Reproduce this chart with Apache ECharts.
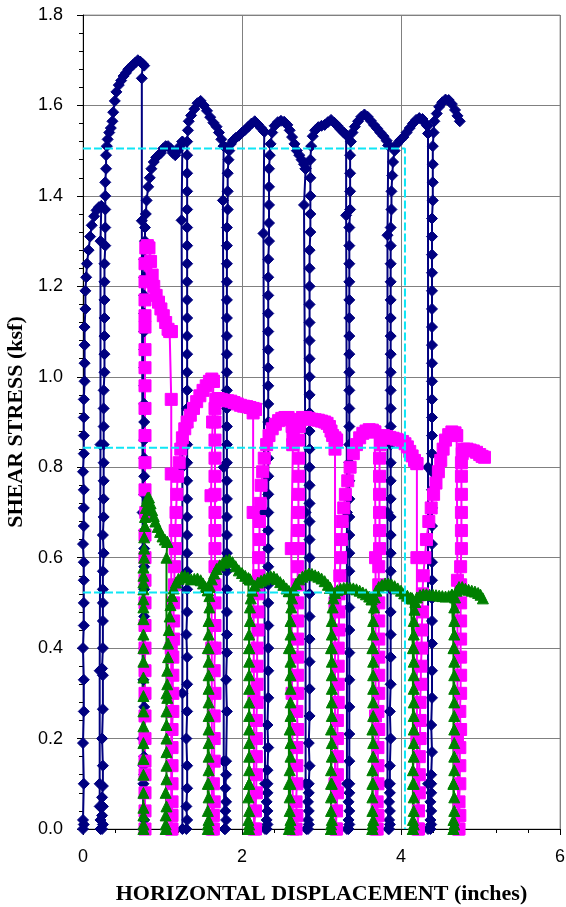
<!DOCTYPE html>
<html>
<head>
<meta charset="utf-8">
<title>Shear stress vs horizontal displacement</title>
<script src="https://cdn.jsdelivr.net/npm/echarts/dist/echarts.min.js"></script>
<style>
  html, body { margin: 0; padding: 0; background: #fff; }
  #chart { width: 566px; height: 907px; }
</style>
</head>
<body>
<div id="chart"></div>
<script>
// Axis ticks
const xTicks = [0, 2, 4, 6];
const yTicks = [0.0, 0.2, 0.4, 0.6, 0.8, 1.0, 1.2, 1.4, 1.6, 1.8];

// ---- Specimen 1 (navy diamonds): [displacement in, shear stress ksf] ----
const navyLoad1 = [[0.00,0.00],[0.01,0.01],[0.00,0.02],[0.01,0.10],[0.00,0.19],[0.01,0.26],[0.01,0.33],[0.00,0.40],[0.01,0.45],[0.01,0.50],[0.01,0.55],[0.01,0.59],[0.00,0.63],[0.01,0.67],[0.01,0.71],[0.01,0.75],[0.00,0.79],[0.01,0.83],[0.01,0.87],[0.01,0.91],[0.01,0.95],[0.02,0.99],[0.02,1.03],[0.02,1.07],[0.02,1.11],[0.03,1.15],[0.03,1.19],[0.04,1.22],[0.05,1.25],[0.07,1.28],[0.09,1.31],[0.11,1.335],[0.14,1.355],[0.17,1.368],[0.20,1.375],[0.23,1.378]];
const navyUnload1 = [[0.22,1.30],[0.22,0.85],[0.21,0.35],[0.21,0.10],[0.21,0.05],[0.22,0.02],[0.22,0.00]];
const navyLoad2 = [[0.24,0.00],[0.25,0.01],[0.24,0.03],[0.25,0.05],[0.24,0.07],[0.25,0.095],[0.25,0.14],[0.24,0.20],[0.25,0.265],[0.25,0.34],[0.24,0.355],[0.25,0.40],[0.25,0.46],[0.25,0.50],[0.25,0.53],[0.25,0.57],[0.26,0.61],[0.25,0.65],[0.26,0.69],[0.26,0.73],[0.26,0.77],[0.26,0.81],[0.26,0.85],[0.26,0.89],[0.26,0.93],[0.26,0.97],[0.27,1.01],[0.27,1.05],[0.27,1.09],[0.27,1.13],[0.27,1.17],[0.27,1.21],[0.27,1.25],[0.28,1.29],[0.28,1.33],[0.28,1.37],[0.28,1.40],[0.28,1.43],[0.29,1.46],[0.29,1.49],[0.30,1.51],[0.31,1.525],[0.33,1.54],[0.35,1.55],[0.37,1.565],[0.38,1.585],[0.40,1.61],[0.42,1.63],[0.45,1.645],[0.48,1.655],[0.51,1.665],[0.54,1.672],[0.57,1.68],[0.60,1.685],[0.63,1.69],[0.66,1.695],[0.69,1.70],[0.72,1.697],[0.75,1.692],[0.77,1.688]];
const navyUnload2 = [[0.74,1.66],[0.74,1.345],[0.75,0.70],[0.75,0.20],[0.76,0.00]];
const navyLoad3 = [[0.76,0.00],[0.77,0.02],[0.76,0.10],[0.77,0.12],[0.76,0.14],[0.77,0.16],[0.77,0.20],[0.77,0.27],[0.76,0.33],[0.77,0.40],[0.77,0.47],[0.77,0.53],[0.77,0.58],[0.77,0.62],[0.77,0.66],[0.77,0.70],[0.77,0.74],[0.77,0.78],[0.77,0.82],[0.77,0.86],[0.77,0.90],[0.77,0.94],[0.77,0.98],[0.77,1.02],[0.77,1.06],[0.77,1.10],[0.77,1.14],[0.77,1.18],[0.77,1.22],[0.77,1.26],[0.78,1.30],[0.78,1.33],[0.79,1.36],[0.80,1.39],[0.82,1.42],[0.84,1.44],[0.86,1.46],[0.89,1.475],[0.92,1.485],[0.95,1.49],[0.98,1.495],[1.01,1.505],[1.04,1.51],[1.07,1.51],[1.10,1.505],[1.13,1.495],[1.16,1.49],[1.19,1.50],[1.22,1.51],[1.25,1.52]];
const navyUnload3 = [[1.25,1.52],[1.24,1.346],[1.25,0.80],[1.25,0.30],[1.25,0.00]];
const navyLoad4 = [[1.30,0.00],[1.31,0.02],[1.30,0.05],[1.31,0.09],[1.31,0.14],[1.30,0.20],[1.31,0.26],[1.31,0.32],[1.31,0.38],[1.30,0.43],[1.31,0.48],[1.31,0.53],[1.31,0.57],[1.31,0.61],[1.31,0.65],[1.31,0.69],[1.31,0.73],[1.31,0.77],[1.31,0.81],[1.31,0.85],[1.31,0.89],[1.31,0.93],[1.31,0.97],[1.31,1.01],[1.31,1.05],[1.31,1.09],[1.31,1.13],[1.31,1.17],[1.31,1.21],[1.31,1.25],[1.31,1.29],[1.31,1.33],[1.31,1.37],[1.31,1.41],[1.31,1.45],[1.31,1.49],[1.31,1.52],[1.32,1.545],[1.33,1.565],[1.36,1.578],[1.40,1.592],[1.44,1.605],[1.48,1.61],[1.52,1.60],[1.56,1.588],[1.60,1.574],[1.64,1.562],[1.68,1.553],[1.71,1.54],[1.74,1.525],[1.77,1.51]];
const navyUnload4 = [[1.77,1.51],[1.76,1.39],[1.77,0.80],[1.77,0.15],[1.78,0.00]];
const navyLoad5 = [[1.79,0.00],[1.80,0.02],[1.79,0.04],[1.80,0.06],[1.79,0.09],[1.80,0.12],[1.80,0.15],[1.81,0.26],[1.80,0.33],[1.81,0.39],[1.81,0.43],[1.81,0.48],[1.81,0.53],[1.81,0.57],[1.81,0.61],[1.81,0.65],[1.81,0.69],[1.81,0.73],[1.81,0.77],[1.81,0.81],[1.81,0.85],[1.81,0.89],[1.81,0.93],[1.81,0.97],[1.81,1.01],[1.81,1.05],[1.81,1.09],[1.81,1.13],[1.81,1.17],[1.81,1.21],[1.81,1.25],[1.81,1.29],[1.81,1.33],[1.82,1.37],[1.82,1.41],[1.82,1.45],[1.83,1.48],[1.84,1.50],[1.86,1.515],[1.89,1.523],[1.92,1.528],[1.96,1.533],[2.00,1.54],[2.04,1.546],[2.08,1.553],[2.12,1.56],[2.16,1.565],[2.20,1.558],[2.24,1.55],[2.28,1.542]];
const navyUnload5 = [[2.28,1.542],[2.27,1.317],[2.28,0.70],[2.29,0.10],[2.29,0.00]];
const navyLoad6 = [[2.31,0.00],[2.32,0.01],[2.31,0.02],[2.32,0.04],[2.31,0.06],[2.32,0.08],[2.32,0.10],[2.32,0.13],[2.33,0.18],[2.32,0.23],[2.33,0.29],[2.33,0.35],[2.33,0.40],[2.33,0.45],[2.33,0.50],[2.33,0.54],[2.33,0.58],[2.33,0.62],[2.33,0.66],[2.33,0.70],[2.33,0.74],[2.33,0.78],[2.33,0.82],[2.33,0.86],[2.33,0.90],[2.33,0.94],[2.33,0.98],[2.33,1.02],[2.33,1.06],[2.33,1.10],[2.33,1.14],[2.33,1.18],[2.33,1.22],[2.33,1.26],[2.34,1.30],[2.34,1.34],[2.34,1.38],[2.34,1.42],[2.34,1.46],[2.35,1.49],[2.36,1.515],[2.38,1.54],[2.41,1.555],[2.45,1.563],[2.49,1.566],[2.53,1.564],[2.57,1.557],[2.60,1.545],[2.63,1.53],[2.66,1.515],[2.69,1.50],[2.72,1.49],[2.75,1.48],[2.78,1.47],[2.80,1.46]];
const navyUnload6 = [[2.80,1.46],[2.78,1.38],[2.80,0.70],[2.80,0.10],[2.81,0.00]];
const navyLoad7 = [[2.83,0.00],[2.84,0.01],[2.83,0.02],[2.84,0.04],[2.83,0.06],[2.84,0.08],[2.84,0.10],[2.85,0.14],[2.84,0.19],[2.85,0.25],[2.85,0.31],[2.85,0.37],[2.85,0.42],[2.85,0.47],[2.85,0.52],[2.85,0.56],[2.85,0.60],[2.85,0.64],[2.85,0.68],[2.85,0.72],[2.85,0.76],[2.85,0.80],[2.85,0.84],[2.85,0.88],[2.85,0.92],[2.85,0.96],[2.85,1.00],[2.85,1.04],[2.85,1.08],[2.85,1.12],[2.85,1.16],[2.85,1.20],[2.85,1.24],[2.85,1.28],[2.86,1.32],[2.86,1.36],[2.86,1.40],[2.86,1.44],[2.86,1.48],[2.87,1.51],[2.89,1.532],[2.92,1.545],[2.96,1.552],[3.00,1.555],[3.04,1.557],[3.08,1.563],[3.12,1.568],[3.16,1.562],[3.20,1.555],[3.24,1.547],[3.28,1.54],[3.31,1.535]];
const navyUnload7 = [[3.31,1.535],[3.31,1.357],[3.32,0.70],[3.32,0.10],[3.32,0.00]];
const navyLoad8 = [[3.34,0.00],[3.35,0.01],[3.34,0.02],[3.35,0.04],[3.34,0.06],[3.35,0.08],[3.35,0.10],[3.35,0.15],[3.35,0.21],[3.35,0.27],[3.35,0.33],[3.35,0.39],[3.35,0.44],[3.35,0.49],[3.35,0.53],[3.35,0.57],[3.35,0.61],[3.35,0.65],[3.35,0.69],[3.35,0.73],[3.35,0.77],[3.35,0.81],[3.35,0.85],[3.35,0.89],[3.35,0.93],[3.35,0.97],[3.35,1.01],[3.35,1.05],[3.35,1.09],[3.35,1.13],[3.35,1.17],[3.35,1.21],[3.35,1.25],[3.35,1.29],[3.35,1.33],[3.36,1.37],[3.36,1.41],[3.36,1.45],[3.36,1.49],[3.37,1.52],[3.39,1.54],[3.42,1.553],[3.46,1.565],[3.50,1.575],[3.54,1.58],[3.58,1.575],[3.62,1.566],[3.66,1.557],[3.70,1.549],[3.74,1.54],[3.78,1.532],[3.82,1.522],[3.84,1.512]];
const navyUnload8 = [[3.84,1.512],[3.83,1.313],[3.83,0.70],[3.83,0.10],[3.84,0.00]];
const navyLoad9 = [[3.85,0.00],[3.86,0.01],[3.85,0.02],[3.86,0.04],[3.85,0.06],[3.86,0.08],[3.86,0.10],[3.86,0.14],[3.87,0.20],[3.86,0.26],[3.87,0.32],[3.87,0.38],[3.87,0.43],[3.87,0.48],[3.87,0.53],[3.87,0.57],[3.87,0.61],[3.87,0.65],[3.87,0.69],[3.87,0.73],[3.87,0.77],[3.87,0.81],[3.87,0.85],[3.87,0.89],[3.87,0.93],[3.87,0.97],[3.87,1.01],[3.87,1.05],[3.87,1.09],[3.87,1.13],[3.87,1.17],[3.87,1.21],[3.87,1.25],[3.87,1.29],[3.87,1.33],[3.88,1.37],[3.88,1.41],[3.89,1.445],[3.90,1.475],[3.92,1.50],[3.95,1.515],[3.99,1.523],[4.03,1.53],[4.07,1.54],[4.11,1.55],[4.15,1.56],[4.19,1.568],[4.23,1.572],[4.27,1.57],[4.30,1.562],[4.33,1.555]];
const navyUnload9 = [[4.33,1.555],[4.34,1.538],[4.34,0.80],[4.34,0.10],[4.34,0.00]];
const navyLoad10 = [[4.37,0.00],[4.38,0.01],[4.37,0.02],[4.38,0.04],[4.37,0.06],[4.38,0.08],[4.38,0.10],[4.38,0.12],[4.39,0.17],[4.38,0.23],[4.39,0.29],[4.39,0.35],[4.39,0.41],[4.39,0.46],[4.39,0.51],[4.39,0.55],[4.39,0.59],[4.39,0.63],[4.39,0.67],[4.39,0.71],[4.39,0.75],[4.39,0.79],[4.39,0.83],[4.39,0.87],[4.39,0.91],[4.39,0.95],[4.39,0.99],[4.39,1.03],[4.39,1.07],[4.39,1.11],[4.39,1.15],[4.39,1.19],[4.39,1.23],[4.39,1.27],[4.39,1.31],[4.39,1.35],[4.40,1.39],[4.40,1.43],[4.40,1.47],[4.40,1.51],[4.41,1.54],[4.42,1.565],[4.45,1.582],[4.48,1.597],[4.52,1.607],[4.56,1.613],[4.60,1.612],[4.64,1.603],[4.68,1.59],[4.71,1.577],[4.74,1.565]];

// ---- Specimen 2 (magenta squares) ----
const magentaLoad1 = [[0.78,0.00],[0.78,0.04],[0.78,0.08],[0.78,0.12],[0.78,0.15],[0.78,0.20],[0.78,0.25],[0.78,0.30],[0.78,0.35],[0.78,0.40],[0.78,0.45],[0.78,0.50],[0.78,0.55],[0.78,0.60],[0.78,0.65],[0.79,0.70],[0.78,0.75],[0.78,0.81],[0.78,0.87],[0.78,0.93],[0.78,0.98],[0.78,1.02],[0.78,1.06],[0.78,1.11],[0.78,1.135],[0.78,1.17],[0.78,1.21],[0.78,1.25],[0.79,1.285],[0.81,1.29],[0.83,1.285],[0.85,1.255],[0.87,1.225],[0.89,1.20],[0.92,1.18],[0.95,1.165],[0.98,1.15],[1.01,1.135],[1.04,1.12],[1.07,1.105],[1.09,1.10],[1.11,1.10]];
const magentaUnload1 = [[1.11,1.10],[1.11,0.95],[1.11,0.785],[1.11,0.40],[1.11,0.00]];
const magentaLoad2 = [[1.12,0.00],[1.12,0.03],[1.12,0.06],[1.12,0.10],[1.12,0.14],[1.12,0.18],[1.12,0.22],[1.13,0.26],[1.13,0.30],[1.13,0.34],[1.13,0.38],[1.14,0.42],[1.14,0.46],[1.14,0.50],[1.15,0.54],[1.15,0.58],[1.16,0.62],[1.16,0.66],[1.17,0.70],[1.18,0.74],[1.19,0.78],[1.21,0.81],[1.23,0.84],[1.25,0.865],[1.28,0.885],[1.31,0.90],[1.35,0.915],[1.39,0.93],[1.43,0.945],[1.47,0.958],[1.51,0.97],[1.55,0.98],[1.59,0.99],[1.62,0.995],[1.64,0.99]];
const magentaUnload2 = [[1.64,0.99],[1.63,0.90],[1.61,0.737],[1.62,0.40],[1.62,0.00]];
const magentaLoad3 = [[1.64,0.00],[1.64,0.03],[1.65,0.06],[1.64,0.10],[1.65,0.15],[1.65,0.20],[1.65,0.25],[1.66,0.30],[1.65,0.35],[1.66,0.40],[1.66,0.45],[1.66,0.50],[1.66,0.54],[1.66,0.58],[1.66,0.62],[1.66,0.66],[1.66,0.70],[1.66,0.74],[1.66,0.78],[1.66,0.82],[1.66,0.86],[1.66,0.90],[1.66,0.93],[1.67,0.95],[1.70,0.952],[1.74,0.95],[1.78,0.948],[1.82,0.947],[1.86,0.946],[1.90,0.943],[1.94,0.94],[1.98,0.937],[2.02,0.935],[2.06,0.934],[2.10,0.932],[2.14,0.93],[2.17,0.928]];
const magentaUnload3 = [[2.17,0.928],[2.14,0.92],[2.14,0.70],[2.15,0.30],[2.15,0.00]];
const magentaLoad4 = [[2.17,0.00],[2.17,0.04],[2.18,0.08],[2.18,0.12],[2.18,0.16],[2.18,0.20],[2.18,0.24],[2.19,0.28],[2.19,0.32],[2.19,0.36],[2.19,0.40],[2.20,0.44],[2.20,0.48],[2.20,0.52],[2.21,0.56],[2.21,0.60],[2.22,0.64],[2.22,0.68],[2.23,0.72],[2.24,0.76],[2.26,0.79],[2.28,0.82],[2.31,0.85],[2.34,0.87],[2.38,0.885],[2.42,0.895],[2.46,0.903],[2.50,0.908],[2.54,0.91],[2.58,0.91],[2.61,0.905],[2.63,0.89],[2.64,0.87],[2.64,0.85]];
const magentaUnload4 = [[2.64,0.85],[2.62,0.62],[2.63,0.30],[2.64,0.00]];
const magentaLoad5 = [[2.68,0.00],[2.69,0.03],[2.68,0.06],[2.69,0.10],[2.69,0.14],[2.69,0.18],[2.70,0.22],[2.69,0.26],[2.70,0.30],[2.70,0.34],[2.70,0.38],[2.70,0.42],[2.70,0.46],[2.70,0.50],[2.70,0.54],[2.70,0.58],[2.71,0.62],[2.71,0.66],[2.71,0.70],[2.71,0.74],[2.71,0.78],[2.71,0.82],[2.71,0.86],[2.72,0.89],[2.73,0.905],[2.76,0.91],[2.80,0.91],[2.84,0.908],[2.88,0.906],[2.92,0.905],[2.96,0.904],[3.00,0.902],[3.04,0.90],[3.07,0.897],[3.10,0.89],[3.12,0.88],[3.14,0.87],[3.17,0.865],[3.19,0.86]];
const magentaUnload5 = [[3.19,0.86],[3.17,0.84],[3.17,0.50],[3.17,0.10],[3.18,0.00]];
const magentaLoad6 = [[3.19,0.00],[3.19,0.04],[3.20,0.08],[3.20,0.12],[3.20,0.16],[3.20,0.20],[3.20,0.24],[3.21,0.28],[3.21,0.32],[3.21,0.36],[3.21,0.40],[3.22,0.44],[3.22,0.48],[3.22,0.52],[3.23,0.56],[3.24,0.60],[3.25,0.64],[3.26,0.68],[3.28,0.71],[3.30,0.74],[3.33,0.77],[3.36,0.80],[3.40,0.83],[3.44,0.85],[3.48,0.865],[3.52,0.875],[3.56,0.88],[3.60,0.883],[3.64,0.882],[3.67,0.878]];
const magentaUnload6 = [[3.67,0.878],[3.68,0.60],[3.68,0.25],[3.68,0.00]];
const magentaLoad7 = [[3.70,0.00],[3.71,0.03],[3.70,0.06],[3.71,0.10],[3.71,0.14],[3.71,0.18],[3.72,0.22],[3.71,0.26],[3.72,0.30],[3.72,0.34],[3.72,0.38],[3.72,0.42],[3.72,0.46],[3.72,0.50],[3.72,0.54],[3.72,0.58],[3.73,0.62],[3.73,0.66],[3.73,0.70],[3.73,0.74],[3.73,0.78],[3.73,0.82],[3.74,0.85],[3.75,0.865],[3.78,0.87],[3.82,0.868],[3.86,0.866],[3.90,0.864],[3.94,0.862],[3.98,0.86],[4.02,0.857],[4.05,0.852],[4.08,0.845],[4.11,0.835],[4.14,0.825],[4.17,0.815],[4.20,0.808]];
const magentaUnload7 = [[4.20,0.808],[4.20,0.60],[4.20,0.20],[4.21,0.00]];
const magentaLoad8 = [[4.22,0.00],[4.22,0.04],[4.23,0.08],[4.23,0.12],[4.23,0.16],[4.24,0.20],[4.24,0.24],[4.24,0.28],[4.25,0.32],[4.25,0.36],[4.26,0.40],[4.26,0.44],[4.27,0.48],[4.27,0.52],[4.28,0.56],[4.30,0.60],[4.32,0.64],[4.35,0.68],[4.38,0.71],[4.41,0.74],[4.44,0.765],[4.47,0.79],[4.50,0.815],[4.53,0.84],[4.56,0.86],[4.60,0.872],[4.64,0.878],[4.68,0.876],[4.70,0.87]];
const magentaUnload8 = [[4.70,0.87],[4.71,0.55],[4.71,0.20],[4.72,0.00]];
const magentaLoad9 = [[4.73,0.00],[4.74,0.03],[4.73,0.06],[4.74,0.10],[4.74,0.14],[4.74,0.18],[4.75,0.22],[4.74,0.26],[4.75,0.30],[4.75,0.34],[4.75,0.38],[4.75,0.42],[4.75,0.46],[4.75,0.50],[4.75,0.54],[4.75,0.58],[4.76,0.62],[4.76,0.66],[4.76,0.70],[4.76,0.74],[4.76,0.78],[4.76,0.81],[4.77,0.83],[4.79,0.84],[4.83,0.84],[4.87,0.838],[4.91,0.836],[4.95,0.833],[4.99,0.828],[5.02,0.824],[5.05,0.822]];

// ---- Specimen 3 (green triangles) ----
const greenLoad1 = [[0.76,0.00],[0.76,0.01],[0.76,0.03],[0.76,0.047],[0.76,0.08],[0.76,0.12],[0.76,0.155],[0.76,0.19],[0.76,0.227],[0.76,0.26],[0.76,0.294],[0.76,0.335],[0.76,0.37],[0.76,0.40],[0.76,0.43],[0.76,0.464],[0.76,0.49],[0.76,0.508],[0.76,0.53],[0.76,0.545],[0.76,0.56],[0.76,0.578],[0.77,0.60],[0.77,0.62],[0.77,0.645],[0.78,0.67],[0.78,0.69],[0.79,0.71],[0.80,0.725],[0.81,0.732],[0.83,0.733],[0.85,0.72],[0.87,0.705],[0.89,0.692],[0.91,0.68],[0.94,0.668],[0.97,0.657],[1.00,0.647],[1.03,0.64],[1.06,0.635]];
const greenUnload1 = [[1.06,0.635],[1.05,0.60],[1.05,0.30],[1.05,0.00]];
const greenLoad2 = [[1.04,0.00],[1.04,0.01],[1.04,0.03],[1.05,0.05],[1.04,0.08],[1.05,0.11],[1.05,0.14],[1.05,0.17],[1.05,0.20],[1.05,0.23],[1.05,0.26],[1.06,0.29],[1.06,0.32],[1.06,0.35],[1.07,0.38],[1.07,0.41],[1.08,0.44],[1.09,0.47],[1.10,0.495],[1.12,0.515],[1.14,0.532],[1.17,0.545],[1.20,0.553],[1.24,0.558],[1.28,0.56],[1.32,0.556],[1.36,0.552],[1.40,0.553],[1.44,0.554],[1.48,0.55],[1.51,0.543],[1.54,0.535],[1.57,0.528]];
const greenUnload2 = [[1.57,0.528],[1.57,0.40],[1.57,0.10],[1.57,0.00]];
const greenLoad3 = [[1.58,0.00],[1.57,0.01],[1.58,0.02],[1.57,0.04],[1.58,0.07],[1.58,0.10],[1.58,0.13],[1.58,0.16],[1.58,0.19],[1.58,0.22],[1.58,0.25],[1.58,0.28],[1.58,0.31],[1.58,0.34],[1.58,0.37],[1.58,0.40],[1.58,0.43],[1.58,0.46],[1.59,0.49],[1.59,0.515],[1.60,0.535],[1.62,0.552],[1.65,0.565],[1.68,0.575],[1.72,0.583],[1.76,0.589],[1.80,0.594],[1.84,0.596],[1.88,0.59],[1.92,0.581],[1.96,0.572],[2.00,0.566],[2.04,0.56],[2.08,0.555],[2.10,0.552]];
const greenUnload3 = [[2.10,0.552],[2.09,0.40],[2.09,0.10],[2.09,0.00]];
const greenLoad4 = [[2.08,0.00],[2.09,0.01],[2.08,0.02],[2.09,0.04],[2.08,0.07],[2.09,0.10],[2.09,0.13],[2.09,0.16],[2.09,0.19],[2.09,0.22],[2.09,0.25],[2.09,0.28],[2.09,0.31],[2.09,0.34],[2.09,0.37],[2.09,0.40],[2.09,0.43],[2.10,0.46],[2.10,0.49],[2.11,0.51],[2.13,0.527],[2.16,0.538],[2.20,0.545],[2.24,0.549],[2.28,0.552],[2.32,0.556],[2.36,0.559],[2.40,0.558],[2.44,0.553],[2.48,0.546],[2.52,0.54],[2.56,0.532],[2.59,0.526]];
const greenUnload4 = [[2.59,0.526],[2.59,0.40],[2.59,0.10],[2.59,0.00]];
const greenLoad5 = [[2.60,0.00],[2.60,0.01],[2.61,0.02],[2.60,0.04],[2.60,0.07],[2.61,0.10],[2.60,0.13],[2.61,0.16],[2.61,0.19],[2.60,0.22],[2.61,0.25],[2.61,0.28],[2.61,0.31],[2.61,0.34],[2.61,0.37],[2.61,0.40],[2.61,0.43],[2.61,0.46],[2.62,0.49],[2.63,0.51],[2.65,0.528],[2.68,0.542],[2.72,0.552],[2.76,0.558],[2.80,0.562],[2.84,0.565],[2.88,0.564],[2.92,0.561],[2.96,0.558],[3.00,0.554],[3.04,0.548],[3.08,0.54],[3.11,0.533]];
const greenUnload5 = [[3.11,0.533],[3.12,0.40],[3.12,0.10],[3.12,0.00]];
const greenLoad6 = [[3.12,0.00],[3.12,0.01],[3.13,0.02],[3.12,0.04],[3.12,0.07],[3.13,0.10],[3.12,0.13],[3.13,0.16],[3.13,0.19],[3.12,0.22],[3.13,0.25],[3.13,0.28],[3.13,0.31],[3.13,0.34],[3.13,0.37],[3.13,0.40],[3.13,0.43],[3.13,0.46],[3.14,0.49],[3.15,0.51],[3.17,0.522],[3.20,0.528],[3.24,0.531],[3.28,0.533],[3.32,0.534],[3.36,0.533],[3.40,0.532],[3.44,0.53],[3.48,0.527],[3.52,0.523],[3.56,0.519],[3.60,0.514],[3.63,0.508]];
const greenUnload6 = [[3.63,0.508],[3.64,0.40],[3.64,0.10],[3.64,0.00]];
const greenLoad7 = [[3.64,0.00],[3.64,0.01],[3.65,0.02],[3.64,0.04],[3.64,0.07],[3.65,0.10],[3.64,0.13],[3.65,0.16],[3.65,0.19],[3.64,0.22],[3.65,0.25],[3.65,0.28],[3.65,0.31],[3.65,0.34],[3.65,0.37],[3.65,0.40],[3.65,0.43],[3.65,0.46],[3.66,0.49],[3.67,0.512],[3.69,0.527],[3.72,0.535],[3.76,0.54],[3.80,0.543],[3.84,0.543],[3.88,0.541],[3.92,0.537],[3.96,0.532],[4.00,0.527],[4.04,0.521],[4.08,0.516],[4.12,0.512],[4.14,0.51]];
const greenUnload7 = [[4.14,0.51],[4.15,0.40],[4.15,0.10],[4.15,0.00]];
const greenLoad8 = [[4.15,0.00],[4.16,0.01],[4.15,0.02],[4.16,0.04],[4.16,0.07],[4.16,0.10],[4.15,0.13],[4.16,0.16],[4.16,0.19],[4.16,0.22],[4.16,0.25],[4.16,0.28],[4.16,0.31],[4.16,0.34],[4.16,0.37],[4.16,0.40],[4.16,0.43],[4.16,0.46],[4.17,0.485],[4.18,0.502],[4.20,0.512],[4.24,0.517],[4.28,0.519],[4.32,0.519],[4.36,0.518],[4.40,0.518],[4.44,0.517],[4.48,0.516],[4.52,0.515],[4.56,0.514],[4.60,0.515],[4.64,0.518]];
const greenUnload8 = [[4.64,0.518],[4.66,0.40],[4.66,0.10],[4.66,0.00]];
const greenLoad9 = [[4.66,0.00],[4.67,0.01],[4.66,0.02],[4.67,0.04],[4.67,0.07],[4.66,0.10],[4.67,0.13],[4.67,0.16],[4.67,0.19],[4.67,0.22],[4.67,0.25],[4.67,0.28],[4.67,0.31],[4.67,0.34],[4.67,0.37],[4.67,0.40],[4.67,0.43],[4.67,0.46],[4.67,0.49],[4.68,0.512],[4.70,0.527],[4.73,0.535],[4.77,0.535],[4.81,0.531],[4.85,0.529],[4.89,0.527],[4.93,0.525],[4.97,0.522],[5.00,0.518],[5.03,0.51]];

// ---- Reference (average residual) lines ----
const residualHigh = [[0, 1.505], [4.05, 1.505], [4.05, 0]];
const residualMid = [[0, 0.843], [4.05, 0.843]];
const residualLow = [[0, 0.523], [4.05, 0.523]];

const navyData = [].concat(navyLoad1, navyUnload1, navyLoad2, navyUnload2, navyLoad3, navyUnload3,
  navyLoad4, navyUnload4, navyLoad5, navyUnload5, navyLoad6, navyUnload6, navyLoad7, navyUnload7,
  navyLoad8, navyUnload8, navyLoad9, navyUnload9, navyLoad10);
const magentaData = [].concat(magentaLoad1, magentaUnload1, magentaLoad2, magentaUnload2, magentaLoad3,
  magentaUnload3, magentaLoad4, magentaUnload4, magentaLoad5, magentaUnload5, magentaLoad6,
  magentaUnload6, magentaLoad7, magentaUnload7, magentaLoad8, magentaUnload8, magentaLoad9);
const greenData = [].concat(greenLoad1, greenUnload1, greenLoad2, greenUnload2, greenLoad3, greenUnload3,
  greenLoad4, greenUnload4, greenLoad5, greenUnload5, greenLoad6, greenUnload6, greenLoad7,
  greenUnload7, greenLoad8, greenUnload8, greenLoad9);

const NAVY = '#000080', MAGENTA = '#FF00FF', GREEN = '#008000', CYAN = '#0FE6F5';
const labelFont = 'Liberation Sans, Arial, sans-serif';
const titleFont = 'Liberation Serif, Times New Roman, serif';

function testSeries(name, data, color, symbol, size) {
  return {
    name, type: 'line', data, symbol, symbolSize: size,
    showAllSymbol: true, clip: true, z: 2,
    lineStyle: { color, width: 2 },
    itemStyle: { color, borderColor: color, borderWidth: 1 },
    emphasis: { disabled: true }
  };
}
function dashedSeries(data) {
  return {
    type: 'line', data, symbol: 'none', z: 5,
    lineStyle: { color: CYAN, width: 2, type: [8, 3] },
    emphasis: { disabled: true }
  };
}

const chart = echarts.init(document.getElementById('chart'), null, { renderer: 'canvas' });
chart.setOption({
  animation: false,
  backgroundColor: '#ffffff',
  grid: {
    left: 83, top: 15, right: 6, bottom: 78,
    containLabel: false, outerBoundsMode: 'none',
    show: true, borderColor: '#a0a0a0', borderWidth: 1, backgroundColor: 'transparent'
  },
  xAxis: {
    type: 'value', min: xTicks[0], max: xTicks[xTicks.length - 1], interval: 2,
    name: 'HORIZONTAL DISPLACEMENT (inches)', nameLocation: 'middle', nameGap: 54,
    nameTextStyle: { fontFamily: titleFont, fontWeight: 'bold', fontSize: 22, color: '#000' },
    axisLine: { show: true, onZero: false, lineStyle: { color: '#000', width: 1 } },
    axisTick: { show: true, inside: false, length: 6, lineStyle: { color: '#000' } },
    minorTick: { show: true, splitNumber: 5, length: 4, lineStyle: { color: '#000' } },
    axisLabel: { fontFamily: labelFont, fontSize: 18, color: '#000', margin: 19 },
    splitLine: { show: true, lineStyle: { color: '#808080', width: 1 } }
  },
  yAxis: {
    type: 'value', min: yTicks[0], max: yTicks[yTicks.length - 1], interval: 0.2,
    name: 'SHEAR STRESS (ksf)', nameLocation: 'middle', nameGap: 45,
    nameTextStyle: { fontFamily: titleFont, fontWeight: 'bold', fontSize: 22, color: '#000' },
    axisLine: { show: true, onZero: false, lineStyle: { color: '#000', width: 1 } },
    axisTick: { show: true, inside: false, length: 6, lineStyle: { color: '#000' } },
    minorTick: { show: true, splitNumber: 5, length: 4, lineStyle: { color: '#000' } },
    axisLabel: { fontFamily: labelFont, fontSize: 18, color: '#000', margin: 20, formatter: v => v.toFixed(1) },
    splitLine: { show: true, lineStyle: { color: '#808080', width: 1 } }
  },
  series: [
    testSeries('Specimen 1', navyData, NAVY, 'diamond', 11),
    testSeries('Specimen 2', magentaData, MAGENTA, 'rect', 12),
    testSeries('Specimen 3', greenData, GREEN, 'triangle', 11),
    dashedSeries(residualHigh),
    dashedSeries(residualMid),
    dashedSeries(residualLow)
  ]
});
</script>
</body>
</html>
